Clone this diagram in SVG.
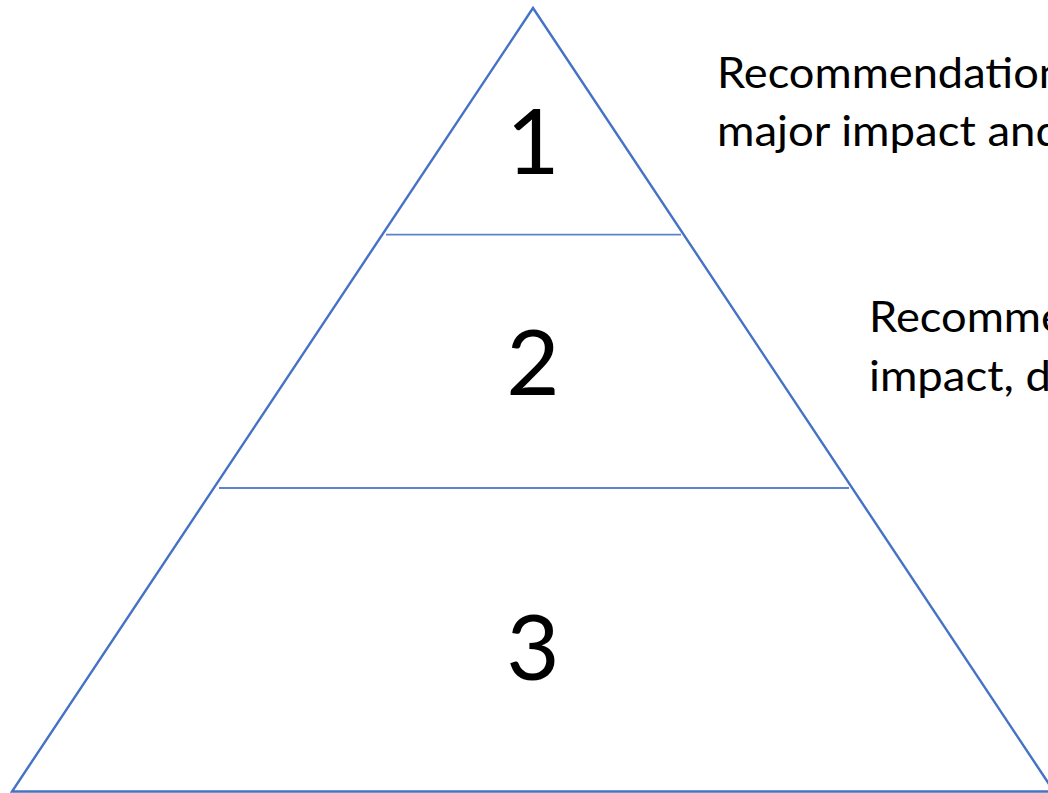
<svg xmlns="http://www.w3.org/2000/svg" width="1048" height="793" viewBox="0 0 1048 793">
  <style>
    .edge { fill: none; stroke: #4472C4; stroke-width: 2.4; stroke-linejoin: miter; }
    .div { stroke: #5B84CC; stroke-width: 1.8; }
    .num { font-family: Lato, "Open Sans", "Liberation Sans", sans-serif; font-size: 92px; fill: #000; text-anchor: middle; }
    .lbl { font-family: Lato, "Open Sans", "Liberation Sans", sans-serif; font-size: 42px; fill: #000; }
  </style>
  <rect width="1048" height="793" fill="#fff"/>
  <g id="pyramid">
    <polygon class="edge" points="533,8 12,791.5 1054,791.5"/>
  </g>
  <g id="tier1">
    <text class="num" x="533" y="174">1</text>
  </g>
  <g id="divider1">
    <line class="div" x1="386" y1="234.7" x2="681" y2="234.7"/>
  </g>
  <g id="tier2">
    <text class="num" x="533" y="395">2</text>
  </g>
  <g id="divider2">
    <line class="div" x1="219" y1="488" x2="849" y2="488"/>
  </g>
  <g id="tier3">
    <text class="num" x="533" y="680">3</text>
  </g>
  <g id="label1">
    <text class="lbl" x="717" y="87.5" textLength="347" lengthAdjust="spacingAndGlyphs">Recommendation</text>
    <text class="lbl" x="717" y="146" textLength="344" lengthAdjust="spacingAndGlyphs">major impact and</text>
  </g>
  <g id="label2">
    <text class="lbl" x="869" y="332" textLength="196" lengthAdjust="spacingAndGlyphs">Recomme</text>
    <text class="lbl" x="869" y="390.5" textLength="182" lengthAdjust="spacingAndGlyphs">impact, d</text>
  </g>
</svg>
